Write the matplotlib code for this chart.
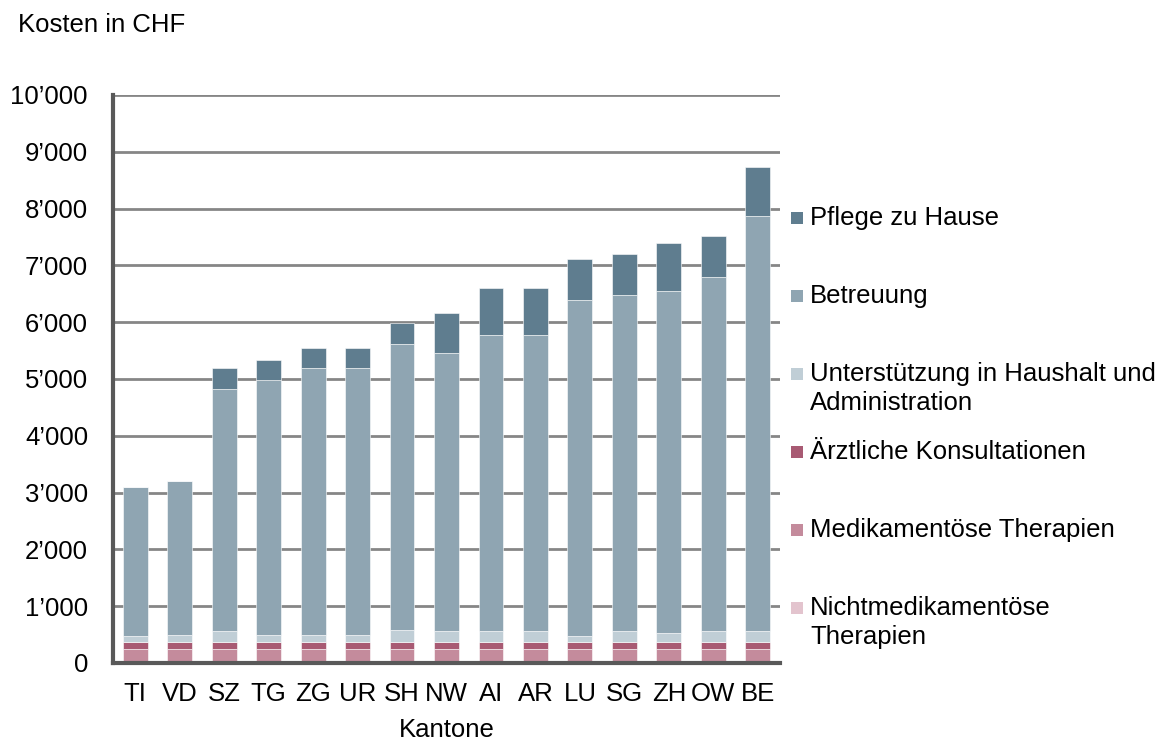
import matplotlib.pyplot as plt
from matplotlib.patches import Rectangle
from matplotlib.ticker import FuncFormatter

plt.rcParams['font.family'] = ['Liberation Sans', 'DejaVu Sans']

kantone = ['TI', 'VD', 'SZ', 'TG', 'ZG', 'UR', 'SH', 'NW', 'AI', 'AR', 'LU', 'SG', 'ZH', 'OW', 'BE']

# Kosten in CHF pro Kategorie (von unten nach oben gestapelt)
nichtmedikamentoes = [20, 20, 20, 20, 20, 20, 20, 20, 20, 20, 20, 20, 20, 20, 20]
medikamentoes = [230, 230, 230, 230, 230, 230, 230, 230, 230, 230, 230, 230, 230, 230, 230]
aerztlich = [120, 120, 120, 120, 120, 120, 120, 120, 120, 120, 120, 120, 120, 120, 120]
unterstuetzung = [100, 125, 195, 125, 125, 125, 210, 195, 195, 195, 100, 195, 150, 195, 195]
betreuung = [2620, 2715, 4265, 4485, 4695, 4695, 5040, 4885, 5205, 5205, 5915, 5920, 6035, 6230, 7305]
pflege = [0, 0, 360, 355, 360, 360, 370, 720, 835, 835, 720, 710, 835, 720, 860]

serien = [
    ('Nichtmedikamentöse\nTherapien', nichtmedikamentoes, '#E3C4CE'),
    ('Medikamentöse Therapien', medikamentoes, '#C48B9C'),
    ('Ärztliche Konsultationen', aerztlich, '#A85A73'),
    ('Unterstützung in Haushalt und\nAdministration', unterstuetzung, '#C0CED6'),
    ('Betreuung', betreuung, '#8FA5B2'),
    ('Pflege zu Hause', pflege, '#5F7D8F'),
]

W, H = 1156, 743
fs = 18.5

fig = plt.figure(figsize=(W / 100, H / 100), dpi=100)
ax = fig.add_axes([113 / W, 1 - 663 / H, 667 / W, 568 / H])

x = range(len(kantone))
unten = [0] * len(kantone)
for name, werte, farbe in serien:
    ax.bar(x, werte, bottom=unten, width=0.56, color=farbe, edgecolor='white', linewidth=0.4, zorder=3)
    unten = [u + w for u, w in zip(unten, werte)]

ax.set_xlim(-0.5, 14.5)
ax.set_ylim(0, 10000)
ax.set_yticks(range(0, 10001, 1000))
ax.yaxis.set_major_formatter(FuncFormatter(lambda v, p: f'{int(v):,}'.replace(',', '\u2019')))
ax.set_xticks(list(x))
ax.set_xticklabels(kantone)
ax.tick_params(axis='both', length=0, labelsize=fs, colors='black')
ax.tick_params(axis='y', pad=18)
ax.tick_params(axis='x', pad=14)

ax.grid(axis='y', color='#868686', linewidth=2, zorder=0)
for s in ['top', 'right']:
    ax.spines[s].set_visible(False)
for s in ['left', 'bottom']:
    ax.spines[s].set_color('#595959')
    ax.spines[s].set_linewidth(3)
    ax.spines[s].set_zorder(4)

ax.set_xlabel('Kantone', fontsize=fs, labelpad=8)
fig.text(18 / W, 1 - 25 / H, 'Kosten in CHF', fontsize=fs, va='center', ha='left')

# Legende (oben Pflege, unten Nichtmedikamentöse), erste Zeile jeweils auf Höhe des Quadrats
for i, (name, werte, farbe) in enumerate(serien[::-1]):
    y = 218 + i * 78
    fig.add_artist(Rectangle((791 / W, 1 - (y + 6) / H), 12 / W, 12 / H,
                             transform=fig.transFigure, facecolor=farbe, edgecolor='none'))
    for k, zeile in enumerate(name.split('\n')):
        fig.text(810 / W, 1 - (y + k * 29) / H, zeile, fontsize=fs, va='center', ha='left')

fig.savefig('out.png', dpi=100)
